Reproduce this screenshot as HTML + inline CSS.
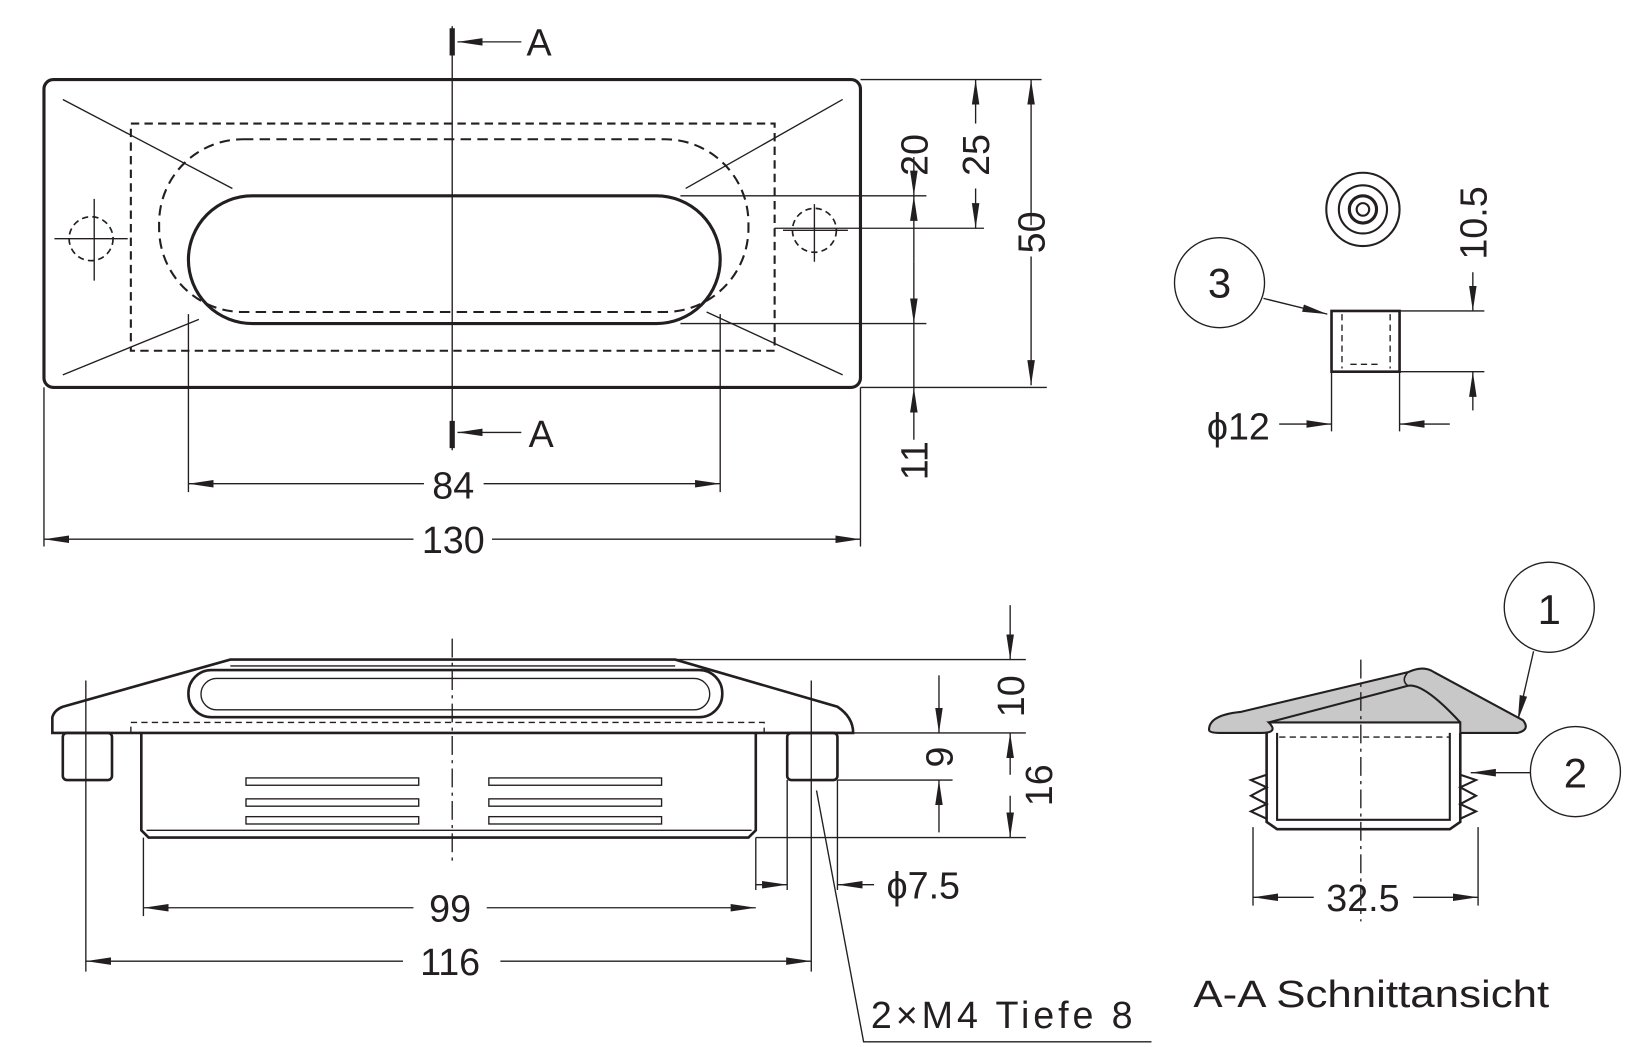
<!DOCTYPE html>
<html><head><meta charset="utf-8"><style>html,body{margin:0;padding:0;background:#fff}svg{display:block}text{font-family:"Liberation Sans",sans-serif;fill:#231f20}</style></head><body>
<svg width="1633" height="1047" viewBox="0 0 1560 1000" preserveAspectRatio="none" xmlns="http://www.w3.org/2000/svg">
<defs>
<marker id="a" viewBox="0 0 10 10" refX="10" refY="5" markerWidth="24" markerHeight="9" markerUnits="userSpaceOnUse" orient="auto" preserveAspectRatio="none"><path d="M0,1L10,5L0,9z" fill="#231f20"/></marker>
</defs>
<g stroke="#231f20" fill="none" stroke-width="1.3">
<rect x="42" y="76" width="780" height="294" rx="9" stroke-width="3"/>
<rect x="125" y="118" width="615" height="217" stroke-dasharray="8,5" stroke-width="2"/>
<rect x="152" y="133" width="563" height="165" rx="80" stroke-dasharray="10,6" stroke-width="2"/>
<rect x="180" y="187" width="508" height="122" rx="61" stroke-width="3"/>
<path d="M60,95L222,180M805,95L655,180M60,358L190,305M805,358L675,298"/>
<circle cx="87" cy="228" r="21" stroke-dasharray="6,4" stroke-width="1.6"/>
<path d="M52,228H122M90,190V268"/>
<circle cx="778" cy="220" r="21" stroke-dasharray="6,4" stroke-width="1.6"/>
<path d="M748,220H810M778,195V250"/>
<path d="M432,25V430"/>
<path d="M432,27V53M432,402V428" stroke-width="5"/>
<g marker-end="url(#a)">
<path d="M498,40H437"/><path d="M498,413H437"/>
<path d="M985,215V76"/><path d="M985,245V368"/>
<path d="M932,118V76"/><path d="M932,180V218"/>
<path d="M873,250V187"/><path d="M873,250V309"/>
<path d="M873,150V187"/><path d="M873,420V370"/>
<path d="M405,462H180"/><path d="M462,462H688"/>
<path d="M395,515H42"/><path d="M470,515H822"/>
<path d="M1407,260V297"/><path d="M1407,392V355"/>
<path d="M1222,405H1272"/><path d="M1385,405H1337"/>
<path d="M1207,285L1268,300"/>
<path d="M965,578V630"/><path d="M965,740V700"/><path d="M965,760V800"/>
<path d="M897,645V700"/><path d="M897,795V745"/>
<path d="M722,845H752"/><path d="M835,845H800"/>
<path d="M395,867H137"/><path d="M465,867H722"/>
<path d="M385,918H82"/><path d="M478,918H775"/>
<path d="M1255,857H1197"/><path d="M1350,857H1412"/>
<path d="M1465,622L1450,688"/><path d="M1462,738H1405"/>
</g>
<path d="M822,76H995M822,370H1000M740,218H940M650,187H885M650,309H885"/>
<path d="M873,309V370"/>
<path d="M180,300V470M688,300V470M42,370V522M822,370V522"/>
<circle cx="1302" cy="200" r="35" stroke-width="2"/><circle cx="1302" cy="200" r="23" stroke-width="2"/><circle cx="1302" cy="200" r="13" stroke-width="3"/><circle cx="1302" cy="200" r="6" stroke-width="2"/>
<rect x="1272" y="297" width="65" height="58" stroke-width="2.5"/>
<path d="M1282,300V352M1328,300V352M1290,348H1320" stroke-dasharray="6,4"/>
<path d="M1337,297H1418M1337,355H1418M1272,355V412M1337,355V412"/>
<circle cx="1165" cy="270" r="43"/>
<path d="M220,630H645L800,675Q815,685 815,700H50V685Q52,678 60,675Z" stroke-width="2.5"/>
<path d="M220,636H645" />
<rect x="180" y="640" width="510" height="45" rx="22" stroke-width="2.5"/>
<rect x="192" y="648" width="486" height="30" rx="15"/>
<path d="M125,700V690H730V700" stroke-dasharray="6,4"/>
<path d="M135,700V793L142,800H715L722,793V700" stroke-width="2.5"/>
<path d="M140,793H718"/>
<rect x="60" y="700" width="47" height="45" rx="4" stroke-width="2.5"/>
<rect x="752" y="700" width="48" height="45" rx="4" stroke-width="2.5"/>
<rect x="235" y="743" width="165" height="7"/><rect x="467" y="743" width="165" height="7"/>
<rect x="235" y="763" width="165" height="7"/><rect x="467" y="763" width="165" height="7"/>
<rect x="235" y="780" width="165" height="7"/><rect x="467" y="780" width="165" height="7"/>
<path d="M432,610V822" stroke-dasharray="18,5,3,5"/>
<path d="M645,630H980M815,700H980M800,745H910M722,800H980"/>
<path d="M82,650V928M775,650V928M137,800V875M752,745V850M800,745V850M722,800V850"/>
<path d="M780,755L825,995H1100"/>
<path d="M1155,697Q1155,683 1185,680L1345,642Q1360,635 1370,642L1455,688Q1462,697 1450,700L1395,700L1395,690L1212,690Q1222,700 1205,700L1165,700Q1155,700 1155,697Z" fill="#c8c8c8" stroke-width="2"/>
<path d="M1212,690L1345,655Q1360,652 1395,690" stroke-width="2"/>
<path d="M1345,642Q1338,650 1345,655" stroke-width="1.5"/>
<path d="M1210,700V785L1220,792H1385L1395,785V700" stroke-width="2.5"/>
<path d="M1220,700V783H1385V700" stroke-width="2"/>
<path d="M1222,704H1385" stroke-dasharray="6,4"/>
<path d="M1210,740L1195,745L1210,752L1195,760L1210,768L1195,775L1210,782M1395,740L1410,745L1395,752L1410,760L1395,768L1410,775L1395,782" stroke-width="2"/>
<path d="M1300,630V880" stroke-dasharray="18,5,3,5"/>
<path d="M1197,790V865M1412,790V865"/>
<circle cx="1480" cy="580" r="43"/><circle cx="1505" cy="737" r="43"/>
</g>
<g font-size="36">
<text x="515" y="53" text-anchor="middle">A</text>
<text x="517" y="427" text-anchor="middle">A</text>
<text x="433" y="476" text-anchor="middle">84</text>
<text x="433" y="528" text-anchor="middle">130</text>
<text transform="translate(998,222) rotate(-90)" text-anchor="middle">50</text>
<text transform="translate(945,148) rotate(-90)" text-anchor="middle">25</text>
<text transform="translate(886,148) rotate(-90)" text-anchor="middle">20</text>
<text transform="translate(886,440) rotate(-90)" text-anchor="middle">11</text>
<text transform="translate(1420,213) rotate(-90)" text-anchor="middle">10.5</text>
<text x="1183" y="420" text-anchor="middle">ϕ12</text>
<text x="1165" y="284" text-anchor="middle" font-size="40">3</text>
<text transform="translate(978,665) rotate(-90)" text-anchor="middle">10</text>
<text transform="translate(910,723) rotate(-90)" text-anchor="middle">9</text>
<text transform="translate(1005,750) rotate(-90)" text-anchor="middle">16</text>
<text x="882" y="858" text-anchor="middle">ϕ7.5</text>
<text x="430" y="880" text-anchor="middle">99</text>
<text x="430" y="931" text-anchor="middle">116</text>
<text x="832" y="982" textLength="250" lengthAdjust="spacing">2×M4  Tiefe 8</text>
<text x="1302" y="870" text-anchor="middle">32.5</text>
<text x="1480" y="596" text-anchor="middle" font-size="40">1</text>
<text x="1505" y="752" text-anchor="middle" font-size="40">2</text>
<text x="1140" y="962" textLength="340" lengthAdjust="spacingAndGlyphs">A-A Schnittansicht</text>
</g>
</svg>
</body></html>
